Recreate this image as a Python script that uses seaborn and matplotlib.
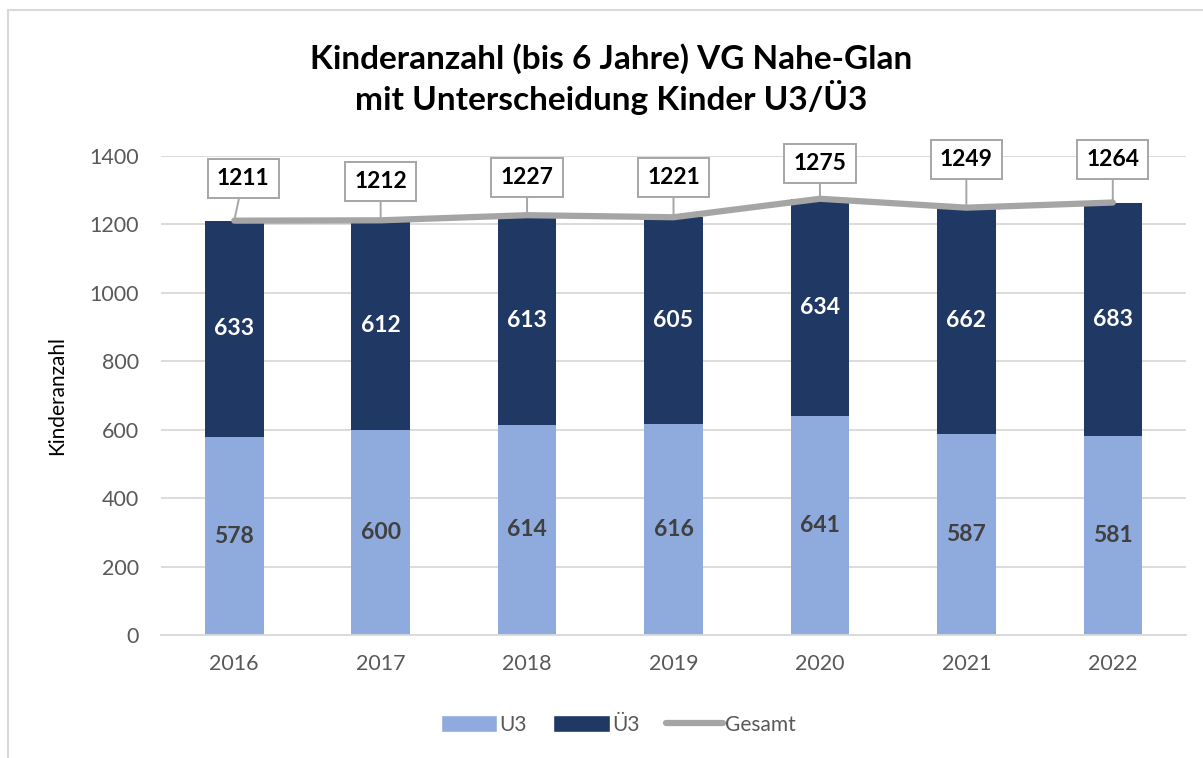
import numpy as np
import pandas as pd
import matplotlib
matplotlib.use("Agg")
import matplotlib.pyplot as plt
import seaborn as sns
from matplotlib.patches import Patch
from matplotlib.lines import Line2D

years = ["2016", "2017", "2018", "2019", "2020", "2021", "2022"]
u3 = [578, 600, 614, 616, 641, 587, 581]
ue3 = [633, 612, 613, 605, 634, 662, 683]
gesamt = [1211, 1212, 1227, 1221, 1275, 1249, 1264]

title = "Kinderanzahl (bis 6 Jahre) VG Nahe-Glan\nmit Unterscheidung Kinder U3/Ü3"
ylabel = "Kinderanzahl"
yticks = [0, 200, 400, 600, 800, 1000, 1200, 1400]

C_U3 = "#8FAADC"
C_UE3 = "#203864"
C_LINE = "#A5A5A5"
FONT = ["Lato", "DejaVu Sans"]

sns.set_theme(style="white")
plt.rcParams["font.family"] = FONT

fig = plt.figure(figsize=(12.03, 7.58), dpi=100)
ax = fig.add_axes([161/1203, 1-635/758, (1186-161)/1203, (635-156)/758])

df = pd.DataFrame({"year": years, "U3": u3, "UE3": ue3, "Gesamt": gesamt})

sns.barplot(data=df, x="year", y="U3", color=C_U3, width=0.4, ax=ax,
            saturation=1, linewidth=0)
sns.barplot(data=df, x="year", y="UE3", color=C_UE3, width=0.4, ax=ax,
            saturation=1, linewidth=0, bottom=df["U3"])
xpos = np.arange(len(years))
sns.lineplot(x=xpos, y=df["Gesamt"], color=C_LINE, linewidth=4.5, ax=ax,
             solid_capstyle="round", zorder=5)

ax.set_ylim(0, 1400)
ax.set_xlim(-0.5, len(years) - 0.5)
ax.set_yticks(yticks)
ax.yaxis.grid(True, color="#D9D9D9", linewidth=1.3)
ax.set_axisbelow(True)
for s in ["top", "right", "left"]:
    ax.spines[s].set_visible(False)
ax.spines["bottom"].set_color("#D9D9D9")
ax.spines["bottom"].set_linewidth(1.3)
ax.tick_params(axis="both", length=0, labelsize=15.5, colors="#595959", pad=16)
ax.tick_params(axis="x", pad=14)
ax.set_xlabel("")
ax.set_ylabel(ylabel, fontsize=15, color="#000000", labelpad=16)

# segment labels
for i in range(len(years)):
    ax.text(i, u3[i] / 2, str(u3[i]), ha="center", va="center",
            fontsize=16.5, fontweight="bold", color="#404040")
    ax.text(i, u3[i] + ue3[i] / 2, str(ue3[i]), ha="center", va="center",
            fontsize=16.5, fontweight="bold", color="white")

# total labels with callout boxes
label_offsets = [(9, 42), (0, 39), (0, 38), (0, 40), (0, 35), (0, 48), (0, 43)]
for i in range(len(years)):
    dx, dy = label_offsets[i]
    ax.annotate(str(gesamt[i]), xy=(i, gesamt[i]), xytext=(dx, dy),
                textcoords="offset pixels", ha="center", va="center",
                fontsize=16.5, fontweight="bold", color="black", zorder=6,
                bbox=dict(boxstyle="square,pad=0.4", fc="white", ec="#A6A6A6", lw=1.4),
                arrowprops=dict(arrowstyle="-", color="#A6A6A6", lw=1.4,
                                shrinkA=0, shrinkB=0))

fig.text(611/1203, 1-79/758, title, ha="center", va="center", fontsize=24,
         fontweight="bold", color="black", linespacing=1.2)

handles = [Patch(facecolor=C_U3, label="U3"),
           Patch(facecolor=C_UE3, label="Ü3"),
           Line2D([0], [0], color=C_LINE, lw=4.5, solid_capstyle="round", label="Gesamt")]
fig.legend(handles=handles, loc="center", bbox_to_anchor=(618/1203, 1-725/758),
           ncol=3, frameon=False, fontsize=15, labelcolor="#595959",
           handlelength=2.7, handleheight=0.9, handletextpad=0.1, columnspacing=1.3)

# chart frame border
fig.add_artist(Line2D([8/1203, 8/1203], [0, 1-10/758], transform=fig.transFigure,
                      color="#D9D9D9", lw=1.5))
fig.add_artist(Line2D([8/1203, 1], [1-10/758, 1-10/758], transform=fig.transFigure,
                      color="#D9D9D9", lw=1.5))

fig.savefig("out.png", dpi=100)
